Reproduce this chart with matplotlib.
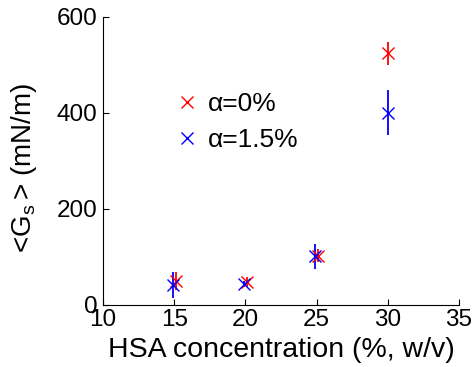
import matplotlib
matplotlib.use("Agg")
import matplotlib.pyplot as plt
from matplotlib.lines import Line2D

x_red = [15.15, 20.1, 25.1, 30.0]
y_red = [50, 48, 103, 524]
e_red = [18, 10, 13, 24]

x_blue = [14.9, 19.9, 24.9, 30.0]
y_blue = [42, 43, 101, 401]
e_blue = [27, 6, 26, 46]

xticks = [10, 15, 20, 25, 30, 35]
yticks = [0, 200, 400, 600]
labels = ['α=0%', 'α=1.5%']

plt.rcParams['font.family'] = ['Liberation Sans', 'DejaVu Sans']
plt.rcParams['mathtext.fontset'] = 'custom'
plt.rcParams['mathtext.rm'] = 'Liberation Sans'

fig = plt.figure(figsize=(4.74, 3.67), dpi=100)
ax = fig.add_axes([0.2173, 0.169, 0.7511, 0.7847])

ax.errorbar(x_red, y_red, yerr=e_red, fmt='x', color='red', ms=8, mew=1.0,
            elinewidth=1.3, capsize=0)
ax.errorbar(x_blue, y_blue, yerr=e_blue, fmt='x', color='blue', ms=8, mew=1.0,
            elinewidth=1.3, capsize=0)

ax.set_xlim(10, 35)
ax.set_ylim(0, 600)
ax.set_xticks(xticks)
ax.set_yticks(yticks)
ax.tick_params(direction='in', length=4, labelsize=17.5, width=0.8)
ax.tick_params(axis='x', pad=3)
ax.tick_params(axis='y', pad=4)
ax.spines['top'].set_visible(False)
ax.spines['right'].set_visible(False)
for s in ('left', 'bottom'):
    ax.spines[s].set_linewidth(0.8)

ax.set_xlabel('HSA concentration (%, w/v)', fontsize=20.5)
ax.xaxis.set_label_coords(0.5, -0.112)
ax.set_ylabel(r'<G$_\mathrm{s}\,$> (mN/m)', fontsize=20)
ax.yaxis.set_label_coords(-0.18, 0.477)

handles = [Line2D([], [], marker='x', ls='none', color='red', ms=8, mew=1.0),
           Line2D([], [], marker='x', ls='none', color='blue', ms=8, mew=1.0)]
ax.legend(handles, labels, loc='upper left', bbox_to_anchor=(0.199, 0.738),
          frameon=False, fontsize=19, handletextpad=0.30, borderaxespad=0,
          borderpad=0, labelspacing=0.45, handlelength=1.0)

fig.savefig('out.png', dpi=100)
